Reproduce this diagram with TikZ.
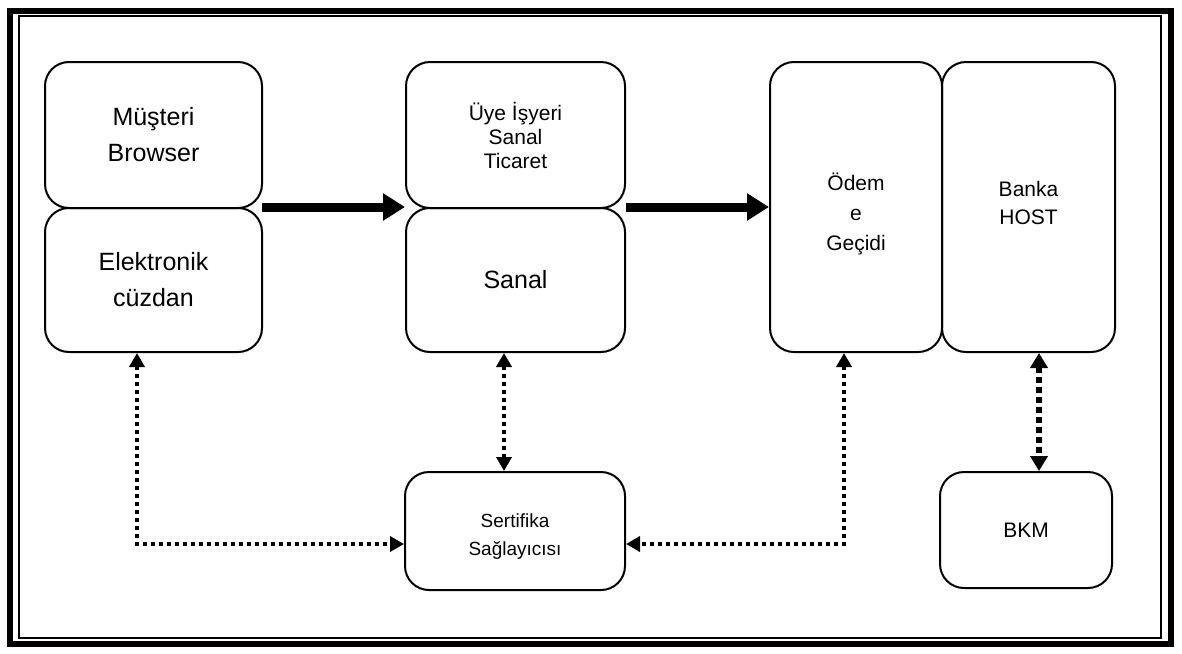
\documentclass[tikz,border=0pt]{standalone}
\usepackage{fontspec}
\setmainfont{Liberation Sans}
\usetikzlibrary{arrows.meta}
\newcommand{\lowered}[2]{\raisebox{-#1}[\height][\depth]{\begin{tabular}{@{}c@{}}#2\end{tabular}}}
\begin{document}
\begin{tikzpicture}[x=1pt,y=-1pt,
  box/.style={draw,line width=2pt,rounded corners=24pt,align=center,inner sep=0pt},
  big/.style={font=\fontsize{25}{36}\selectfont},
  flow/.style={line width=9pt,-{Triangle[length=22pt,width=26pt]}},
  dotline/.style={line width=4pt,dash pattern=on 4pt off 4pt,{Triangle[length=14pt,width=15pt]}-{Triangle[length=14pt,width=15pt]}},
  heavydot/.style={line width=5.5pt,dash pattern=on 6pt off 4pt,{Triangle[length=15pt,width=17pt]}-{Triangle[length=15pt,width=17pt]}}
]
\useasboundingbox (0,0) rectangle (1182,653);
% double frame
\draw[line width=6pt] (10,11) rectangle (1171,644);
\draw[line width=2.5pt] (19,16) rectangle (1161,638);

% customer side
\node[box,big,minimum width=217pt,minimum height=146pt] (mb) at (153.5,135) {Müşteri\\Browser};
\node[box,big,minimum width=217pt,minimum height=144pt] (ec) at (153.5,280) {Elektronik\\cüzdan};
% merchant side
\node[box,font=\fontsize{21}{24}\selectfont,minimum width=219pt,minimum height=146pt] (uy) at (515.5,135) {Üye İşyeri\\Sanal\\Ticaret};
\node[box,big,minimum width=219pt,minimum height=144pt] (sn) at (515.5,280) {Sanal};
% payment gateway and bank
\node[box,font=\fontsize{21}{30}\selectfont,minimum width=172pt,minimum height=290pt] (og) at (856,207) {\lowered{7pt}{Ödem\\e\\Geçidi}};
\node[box,font=\fontsize{21}{28}\selectfont,minimum width=173pt,minimum height=290pt] (bh) at (1028.5,207) {\lowered{-2pt}{Banka\\HOST}};
\node[box,font=\fontsize{21}{30}\selectfont,minimum width=172pt,minimum height=116pt] (bkm) at (1026,530) {BKM};
% certificate provider
\node[box,font=\fontsize{19}{28}\selectfont,minimum width=220pt,minimum height=118pt] (sp) at (515,531) {\lowered{5pt}{Sertifika\\Sağlayıcısı}};

% main flow
\coordinate (f1) at (262,207);
\coordinate (f2) at (626,207);
\draw[flow] (f1) -- (f1 -| uy.west);
\draw[flow] (f2) -- (f2 -| og.west);

% certificate links
\coordinate (c1) at (137,544);
\coordinate (c2) at (504,0);
\coordinate (c3) at (844,544);
\coordinate (c4) at (1039,0);
\draw[dotline] (ec.south -| c1) -- (c1) -- (c1 -| sp.west);
\draw[dotline] (sn.south -| c2) -- (sp.north -| c2);
\draw[dotline] (og.south -| c3) -- (c3) -- (c3 -| sp.east);
\draw[heavydot] (bh.south -| c4) -- (bkm.north -| c4);
\end{tikzpicture}
\end{document}
